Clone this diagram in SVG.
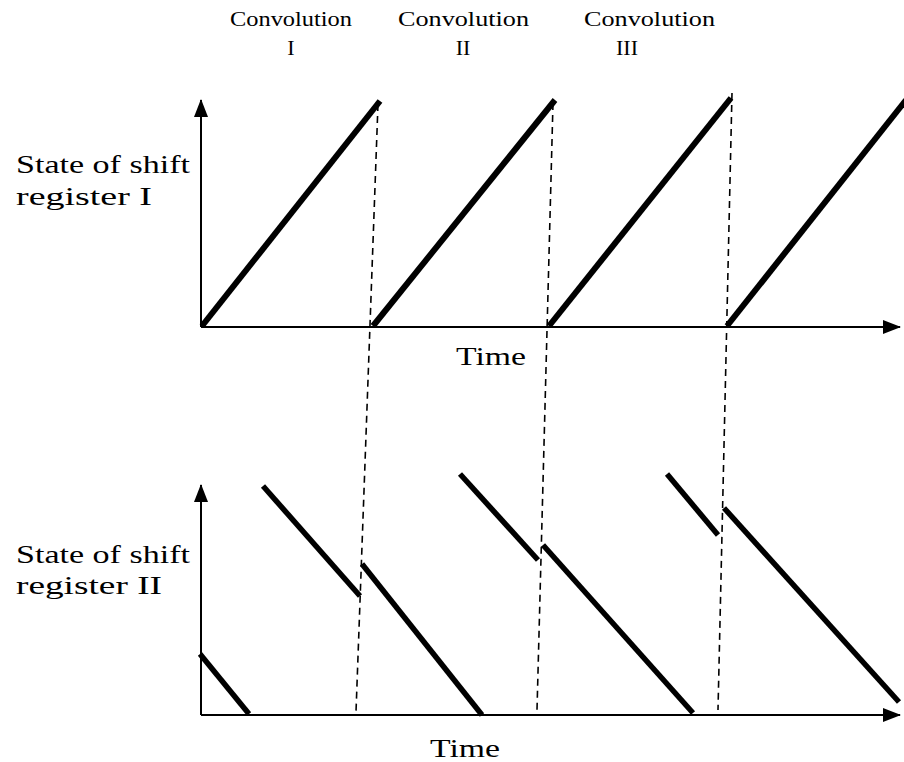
<svg xmlns="http://www.w3.org/2000/svg" width="904" height="762" viewBox="0 0 904 762">
<style>
text{font-family:"Liberation Serif","Times New Roman",serif;fill:#000}
.hd{font-size:22px}
.lb{font-size:26px}
.ax{stroke:#000;stroke-width:2;fill:none}
.th{stroke:#000;stroke-width:6;fill:none}
.tl{stroke:#000;stroke-width:5.5;fill:none}
.ds{stroke:#000;stroke-width:1.6;stroke-dasharray:7,5;fill:none}
</style>
<defs>
<marker id="ah" viewBox="0 0 18 14" refX="17" refY="7" markerWidth="18" markerHeight="14" markerUnits="userSpaceOnUse" orient="auto">
<path d="M0,0 L18,7 L0,14 Z" fill="#000"/>
</marker>
</defs>
<rect width="904" height="762" fill="#fff"/>
<g id="headers">
<text class="hd" x="230" y="26" textLength="122" lengthAdjust="spacingAndGlyphs">Convolution</text>
<text class="hd" x="291" y="55" text-anchor="middle">I</text>
<text class="hd" x="398" y="26" textLength="131" lengthAdjust="spacingAndGlyphs">Convolution</text>
<text class="hd" x="463" y="55" text-anchor="middle">II</text>
<text class="hd" x="584" y="26" textLength="131" lengthAdjust="spacingAndGlyphs">Convolution</text>
<text class="hd" x="627" y="55" text-anchor="middle">III</text>
</g>
<g id="plot1">
<text class="lb" x="16" y="173" textLength="174" lengthAdjust="spacingAndGlyphs">State of shift</text>
<text class="lb" x="16" y="205" textLength="136" lengthAdjust="spacingAndGlyphs">register I</text>
<text class="lb" x="456" y="365" textLength="70" lengthAdjust="spacingAndGlyphs">Time</text>
<line class="ax" x1="201" y1="327" x2="201" y2="100" marker-end="url(#ah)"/>
<line class="ax" x1="201" y1="327" x2="900" y2="327" marker-end="url(#ah)"/>
<line class="th" x1="202" y1="326" x2="380" y2="101"/>
<line class="th" x1="373" y1="326" x2="555" y2="100"/>
<line class="th" x1="549" y1="326" x2="731" y2="98"/>
<line class="th" x1="727" y1="326" x2="906" y2="100"/>
</g>
<g id="plot2">
<text class="lb" x="16" y="563" textLength="174" lengthAdjust="spacingAndGlyphs">State of shift</text>
<text class="lb" x="16" y="594" textLength="146" lengthAdjust="spacingAndGlyphs">register II</text>
<text class="lb" x="430" y="757" textLength="70" lengthAdjust="spacingAndGlyphs">Time</text>
<line class="ax" x1="201" y1="715" x2="201" y2="485" marker-end="url(#ah)"/>
<line class="ax" x1="201" y1="715" x2="900" y2="715" marker-end="url(#ah)"/>
<line class="tl" x1="200" y1="654" x2="249" y2="714"/>
<line class="tl" x1="263" y1="486" x2="360" y2="596"/>
<line class="tl" x1="362" y1="564" x2="482" y2="715"/>
<line class="tl" x1="460" y1="474" x2="538" y2="560"/>
<line class="tl" x1="543" y1="545" x2="693" y2="713"/>
<line class="tl" x1="667" y1="474" x2="718" y2="535"/>
<line class="tl" x1="724" y1="508" x2="899" y2="702"/>
</g>
<g id="connectors">
<line class="ds" x1="378" y1="104" x2="356" y2="712"/>
<line class="ds" x1="553" y1="103" x2="537" y2="710"/>
<line class="ds" x1="732" y1="93" x2="718" y2="710"/>
</g>
</svg>
